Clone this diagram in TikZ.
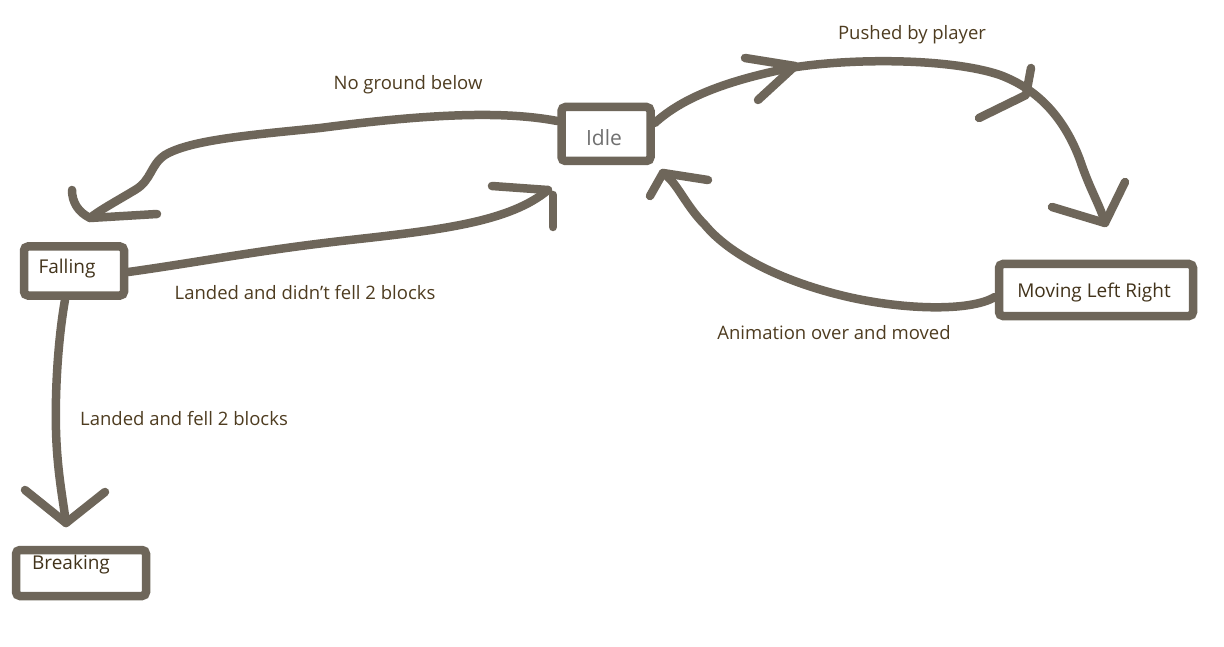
\documentclass[tikz,border=0pt]{standalone}
\usepackage{fontspec}
\setmainfont{Open Sans}
\definecolor{stroke}{RGB}{110,102,90}
\definecolor{labelc}{RGB}{78,60,32}
\definecolor{idlec}{RGB}{112,112,112}
\begin{document}
\begin{tikzpicture}[x=1pt,y=-1pt,
  statebox/.style={draw=stroke, line width=8.5pt, rounded corners=4pt, inner sep=0pt, fill=white},
  edge/.style={draw=stroke, line width=8.5pt, line cap=round, line join=round},
  lbl/.style={text=labelc, font=\fontsize{18.5}{22}\selectfont, inner sep=0pt},
  stxt/.style={text=labelc!85!black, font=\fontsize{19}{22}\selectfont, inner sep=0pt}]
\useasboundingbox[fill=white] (0,0) rectangle (1224,647);

% states
\node[statebox, minimum width=89pt, minimum height=54pt] (idle) at (606,134) {};
\node[text=idlec, font=\fontsize{21}{25}\selectfont, inner sep=0pt] (idlet) at (604,138) {Idle};
\node[statebox, minimum width=100pt, minimum height=49pt] (falling) at (74,271) {};
\node[stxt] (fallingt) at (67,269) {Falling};
\node[statebox, minimum width=194pt, minimum height=52pt] (moving) at (1096,290) {};
\node[stxt] (movingt) at (1094,293) {Moving Left Right};
\node[statebox, minimum width=130pt, minimum height=46pt] (breaking) at (81,573) {};
\node[stxt] (breakingt) at (71,565) {Breaking};

% free ends
\coordinate (tipF) at (90,218);
\coordinate (tipI1) at (548,190);
\coordinate (tipM) at (1105,223);
\coordinate (tipI2) at (663,173);
\coordinate (tipB) at (66,523);

% Idle -> Falling
\draw[edge] (idle.west |- 0,121) .. controls (500,110) and (420,115) .. (320,128)
  .. controls (250,135) and (190,140) .. (165,155)
  .. controls (150,165) and (152,180) .. (135,190)
  .. controls (115,202) and (100,210) .. (tipF);
\draw[edge] (72,190) .. controls (72,202) and (78,212) .. (tipF) -- (157,214);

% Falling -> Idle
\draw[edge] (falling.east |- 0,272) .. controls (200,262) and (260,250) .. (350,240)
  .. controls (440,230) and (510,222) .. (tipI1);
\draw[edge] (492,186) -- (tipI1);
\draw[edge] (553,195) -- (553,227);

% Idle -> Moving
\draw[edge] (idle.east |- 0,123) .. controls (680,100) and (720,82) .. (790,68)
  .. controls (850,58) and (950,58) .. (1000,75)
  .. controls (1040,90) and (1065,120) .. (1080,160)
  .. controls (1090,190) and (1100,205) .. (tipM);
\draw[edge] (1052,207) -- (tipM) -- (1125,182);
\draw[edge] (745,58) -- (795,66) -- (758,100);
\draw[edge] (1031,68) -- (1026,95) -- (979,118);

% Moving -> Idle
\draw[edge] (moving.west |- 0,297) .. controls (970,312) and (900,310) .. (840,295)
  .. controls (780,280) and (730,255) .. (705,225)
  .. controls (685,205) and (677,182) .. (tipI2);
\draw[edge] (708,180) -- (tipI2) -- (650,196);

% Falling -> Breaking
\draw[edge] (falling.south -| 65,0) .. controls (58,340) and (55,390) .. (56,430)
  .. controls (57,470) and (63,500) .. (tipB);
\draw[edge] (25,490) -- (tipB) -- (105,492);

% labels
\node[lbl] (l1) at (408,85) {No ground below};
\node[lbl] (l2) at (912,35) {Pushed by player};
\node[lbl] (l3) at (305,293) {Landed and didn't fell 2 blocks};
\node[lbl] (l4) at (834,333) {Animation over and moved};
\node[lbl] (l5) at (184,419) {Landed and fell 2 blocks};
\end{tikzpicture}
\end{document}
